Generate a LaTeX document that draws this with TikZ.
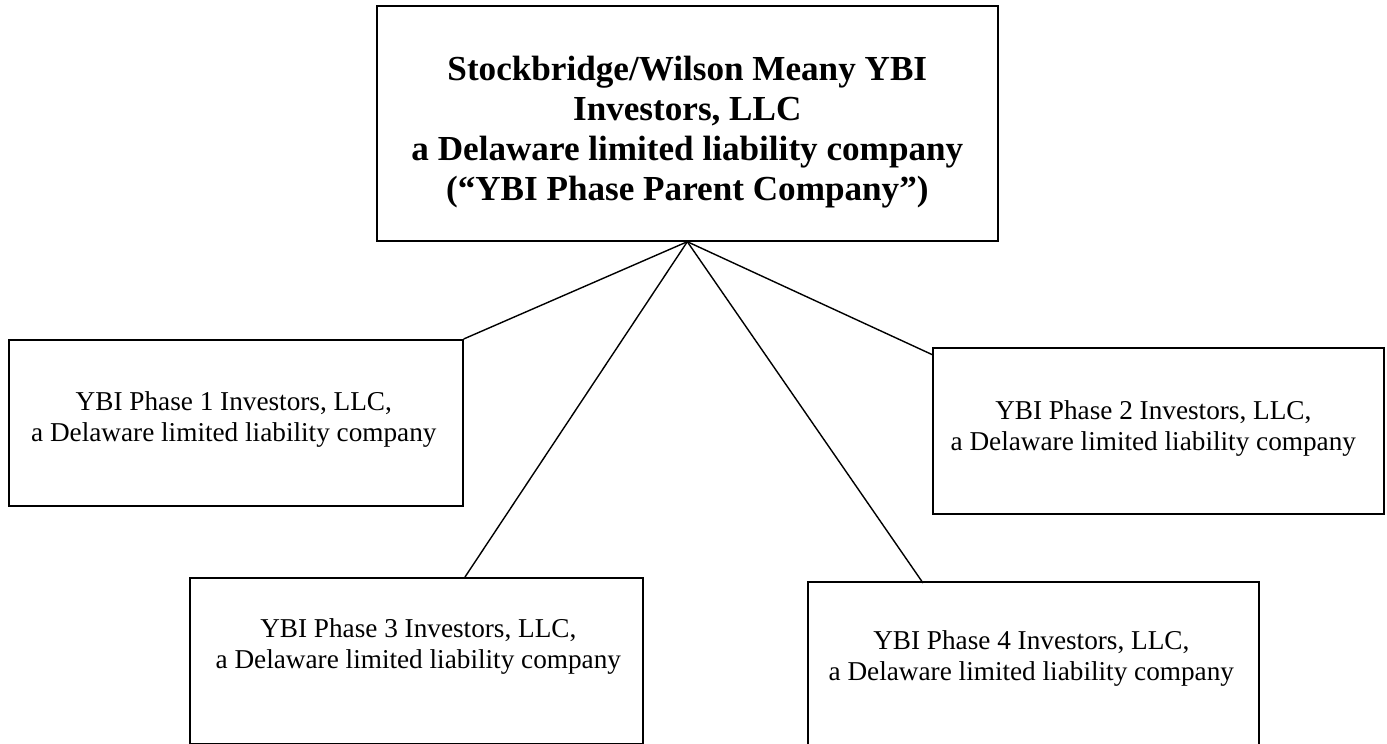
\documentclass[tikz,border=0pt]{standalone}
\usepackage{fontspec}
\setmainfont{Liberation Serif}
\usepackage{tikz}
\usetikzlibrary{calc,positioning}
\tikzset{parentbox/.style={
    draw=black,
    line width=1pt,
    rectangle,
    anchor=north west,
    minimum width=12.42cm,
    minimum height=4.70cm}}
\tikzset{phasebox/.style={
    draw=black,
    line width=1pt,
    rectangle,
    anchor=north west,
    minimum width=9.06cm,
    minimum height=3.32cm}}
\tikzset{parenttext/.style={
    font=\fontsize{20}{22.8}\selectfont\bfseries,
    align=center,
    inner sep=0pt,
    anchor=north}}
\tikzset{phasetext/.style={
    font=\fontsize{15.5}{17.8}\selectfont,
    align=center,
    inner sep=0pt,
    anchor=north}}
\tikzset{ownedge/.style={
    draw=black,
    line width=0.8pt}}

\begin{document}
\begin{tikzpicture}[x=0.02cm,y=0.02cm]
	\useasboundingbox (0,0) rectangle (1387,-744);

\node[parentbox] (parent) at (376,-5) {};
\node[phasebox,minimum width=9.08cm] (p1) at (8,-339) {};
\node[phasebox,minimum width=9.02cm] (p2) at (932,-347) {};
\node[phasebox] (p3) at (189,-577) {};
\node[phasebox,minimum width=9.02cm] (p4) at (807,-581) {};

\node[parenttext] (parentlabel) at ($(parent.north)+(0,-51)$) {Stockbridge/Wilson Meany YBI\\Investors, LLC\\a Delaware limited liability company\\(“YBI Phase Parent Company”)};
\node[phasetext] (p1label) at ($(p1.north)+(-2,-52)$) {YBI Phase 1 Investors, LLC,\\a Delaware limited liability company};
\node[phasetext] (p2label) at ($(p2.north)+(-5,-53)$) {YBI Phase 2 Investors, LLC,\\a Delaware limited liability company};
\node[phasetext] (p3label) at ($(p3.north)+(2,-41)$) {YBI Phase 3 Investors, LLC,\\a Delaware limited liability company};
\node[phasetext] (p4label) at ($(p4.north)+(-2,-49)$) {YBI Phase 4 Investors, LLC,\\a Delaware limited liability company};

\coordinate (p2end) at ($(p2.north west)+(1,-8)$);
\coordinate (p3end) at ($(p3.north west)+(276,0)$);
\coordinate (p4end) at ($(p4.north west)+(116,-2)$);

	\path[ownedge] (parent.south) -- (p1.north east);
	\path[ownedge] (parent.south) -- (p3end);
	\path[ownedge] (parent.south) -- (p4end);
	\path[ownedge] (parent.south) -- (p2end);

\end{tikzpicture}
\end{document}
